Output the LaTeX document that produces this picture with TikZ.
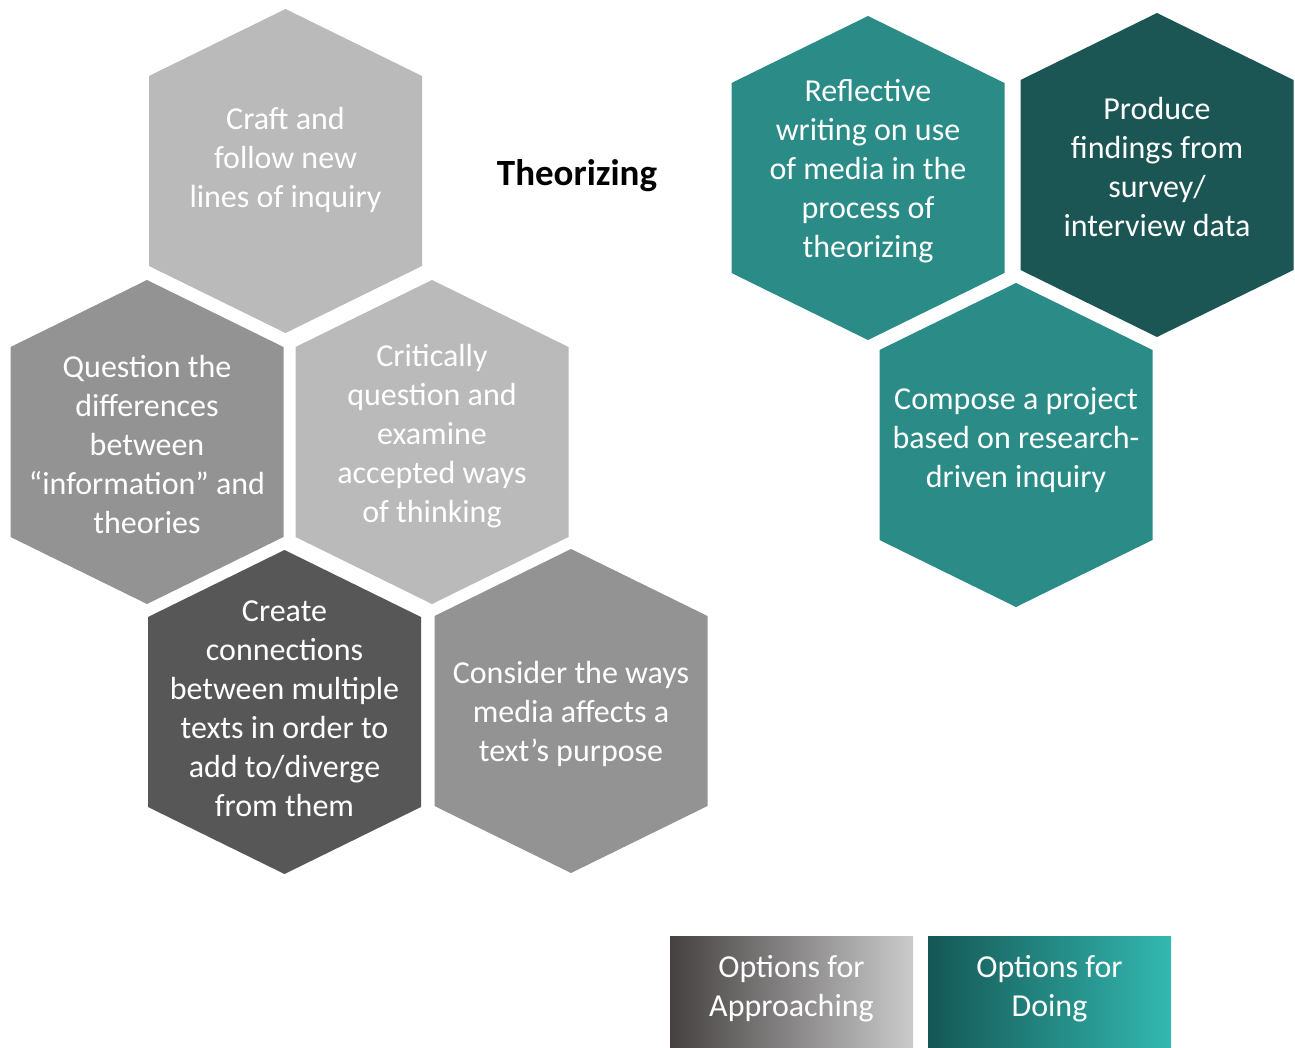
\documentclass[tikz,border=0pt]{standalone}
\usepackage{fontspec}
\setmainfont{Carlito}
\definecolor{greylight}{HTML}{BABABA}
\definecolor{greymid}{HTML}{939393}
\definecolor{greydark}{HTML}{575757}
\definecolor{tealmid}{HTML}{2A8B87}
\definecolor{tealdark}{HTML}{1B5554}
\definecolor{gradgreyA}{HTML}{454141}
\definecolor{gradgreyB}{HTML}{CBCBCB}
\definecolor{gradtealA}{HTML}{155755}
\definecolor{gradtealB}{HTML}{33B8B0}
% flat pointy-top hexagon centred at (#1,#2), filled with colour #3
\newcommand\hexcell[3]{%
  \fill[#3] (#1,#2) ++(0,-162) -- ++(136.5,67) -- ++(0,190) -- ++(-136.5,67)
    -- ++(-136.5,-67) -- ++(0,-190) -- cycle;}
\begin{document}
\begin{tikzpicture}[x=1pt,y=-1pt,
  hexlabel/.style={text=white, align=center, inner sep=0pt,
    font=\fontsize{32}{39}\selectfont},
  legendbox/.style={minimum width=243pt, minimum height=112pt, inner sep=0pt, draw=none}]
\useasboundingbox (0,0) rectangle (1295,1048);

% approaching options (grey)
\hexcell{285.5}{171}{greylight}
\hexcell{147}{442}{greymid}
\hexcell{432}{442}{greylight}
\hexcell{284.5}{712}{greydark}
\hexcell{571}{711}{greymid}
% doing options (teal)
\hexcell{868}{178}{tealmid}
\hexcell{1157}{175}{tealdark}
\hexcell{1016}{445}{tealmid}

\node[hexlabel] (craft) at (285.5,160) {Craft and\\follow new\\lines of inquiry};
\node[hexlabel] (question) at (147,445) {Question the\\differences\\between\\“information” and\\theories};
\node[hexlabel] (critically) at (432,436) {Critically\\question and\\examine\\accepted ways\\of thinking};
\node[hexlabel] (create) at (284.5,709) {Create\\connections\\between multiple\\texts in order to\\add to/diverge\\from them};
\node[hexlabel] (consider) at (571,714) {Consider the ways\\media affects a\\text’s purpose};
\node[hexlabel] (reflective) at (868,171) {Reflective\\writing on use\\of media in the\\process of\\theorizing};
\node[hexlabel] (produce) at (1157,167) {Produce\\findings from\\survey/\\interview data};
\node[hexlabel] (compose) at (1016,440) {Compose a project\\based on research-\\driven inquiry};

\node[font=\fontsize{37}{44}\selectfont\bfseries, inner sep=0pt] (title) at (577,176) {Theorizing};

% legend
\node[legendbox, left color=gradgreyA, right color=gradgreyB] (approachbox) at (791.5,992) {};
\node[legendbox, left color=gradtealA, right color=gradtealB] (doingbox) at (1049.5,992) {};
\node[hexlabel] (approachtext) at (791.5,989) {Options for\\Approaching};
\node[hexlabel] (doingtext) at (1049.5,989) {Options for\\Doing};
\end{tikzpicture}
\end{document}
